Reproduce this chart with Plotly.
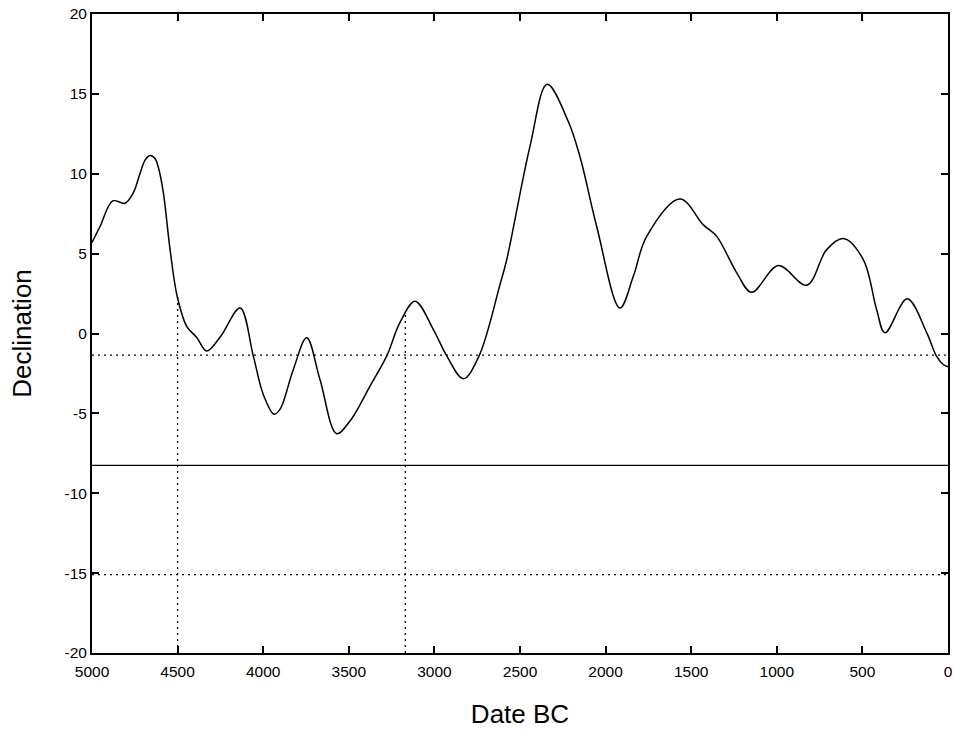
import plotly.graph_objects as go

# Curve (year BC, declination)
years = [5000, 4953, 4879, 4807, 4759, 4720, 4690, 4661, 4632, 4610, 4583, 4544, 4502, 4447,
         4388, 4330, 4250, 4135, 4058, 4000, 3937, 3902, 3824, 3746, 3668, 3571,
         3493, 3376, 3279, 3201, 3113, 3006, 2928, 2831, 2739, 2617, 2578, 2442,
         2341, 2218, 2150, 2052, 1916, 1838, 1760, 1565, 1429, 1351, 1234, 1147,
         991, 825, 709, 611, 495, 417, 368, 238, 124, 67, 28, 0]
decl = [5.7, 6.7, 8.3, 8.15, 8.8, 10.0, 10.85, 11.14, 10.95, 10.3, 8.8, 5.25, 2.3, 0.45,
        -0.25, -1.1, -0.2, 1.6, -1.4, -3.8, -5.05, -4.75, -2.25, -0.27, -2.9, -6.27,
        -5.48, -3.29, -1.42, 0.69, 2.02, 0.25, -1.4, -2.83, -1.4, 3.06, 4.6, 11.7,
        15.6, 13.27, 11.08, 6.7, 1.6, 3.58, 6.08, 8.42, 6.8, 6.08, 3.8, 2.58,
        4.25, 3.02, 5.25, 5.94, 4.63, 1.5, 0.04, 2.17, 0.04, -1.42, -1.94, -2.08]

# Reference levels
dotted_levels = [-1.35, -15.1]
solid_levels = [-8.25]
marker_dates = [4500, 3170]
marker_tops = [2.3, 1.3]

x_ticks = [5000, 4500, 4000, 3500, 3000, 2500, 2000, 1500, 1000, 500, 0]
y_ticks = [20, 15, 10, 5, 0, -5, -10, -15, -20]

FONT = "Liberation Sans, Arial"

fig = go.Figure()
fig.add_trace(go.Scatter(x=years, y=decl, mode="lines",
                         line=dict(color="black", width=1.5, shape="spline", smoothing=1.0),
                         showlegend=False, hoverinfo="skip", cliponaxis=True))

dot = "2px,4px"
for lv in dotted_levels:
    fig.add_shape(type="line", xref="paper", yref="y", x0=0, x1=1, y0=lv, y1=lv,
                  line=dict(color="black", width=1.3, dash=dot), layer="below")
for lv in solid_levels:
    fig.add_shape(type="line", xref="paper", yref="y", x0=0, x1=1, y0=lv, y1=lv,
                  line=dict(color="black", width=1.2), layer="below")
for d, t in zip(marker_dates, marker_tops):
    fig.add_shape(type="line", xref="x", yref="y", x0=d, x1=d, y0=-20, y1=t,
                  line=dict(color="black", width=1.3, dash=dot), layer="below")

axis_common = dict(showline=True, linecolor="black", linewidth=2, mirror="ticks",
                   ticks="inside", ticklen=7, tickwidth=2, tickcolor="black",
                   showgrid=False, zeroline=False, automargin=False,
                   ticklabeloverflow="allow",
                   tickfont=dict(family=FONT, size=15.5, color="black"))

fig.update_xaxes(range=[5000, 0], tickvals=x_ticks, ticktext=[str(v) for v in x_ticks],
                 ticklabelstandoff=3,
                 title=dict(text="Date BC", font=dict(family=FONT, size=26, color="black"),
                            standoff=26),
                 **axis_common)
fig.update_yaxes(range=[-20, 20], tickvals=y_ticks, ticktext=[str(v) for v in y_ticks],
                 title=dict(text="Declination", font=dict(family=FONT, size=26, color="black"),
                            standoff=25),
                 **axis_common)

fig.update_layout(width=954, height=731,
                  margin=dict(l=92, r=6, t=14, b=78),
                  plot_bgcolor="white", paper_bgcolor="white",
                  font=dict(family=FONT, color="black"))

fig.write_html("out.html", config={"displayModeBar": False},
               post_script="document.body.style.margin='0';document.body.style.padding='0';")
